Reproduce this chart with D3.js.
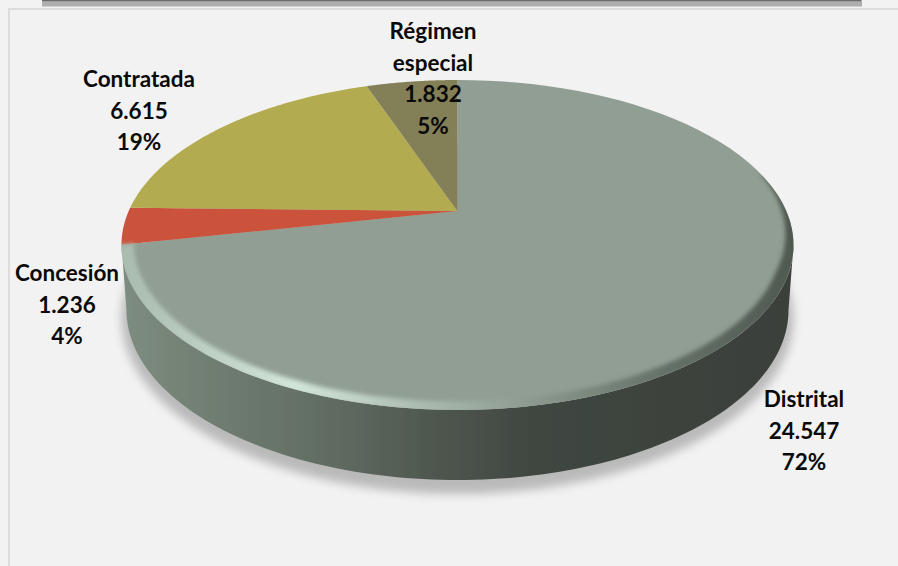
<!DOCTYPE html>
<html lang="es">
<head>
    <meta charset="UTF-8">
    <title>Pie</title>
    <script src="https://d3js.org/d3.v7.min.js"></script>
    <style>
        html, body { margin: 0; padding: 0; background: #f2f2f2; }
        svg { display: block; }
        .lbl { font-family: Lato, "Open Sans", sans-serif; font-weight: 700; font-size: 22.5px; fill: #0a0a0a; text-anchor: middle; }
    </style>
</head>
<body>
<svg id="main" width="898" height="566"></svg>
<script>
    // slices, clockwise from 12 o'clock
    const names = ['Distrital', 'Concesión', 'Contratada', 'Régimen especial'];
    const values = [24547, 1236, 6615, 1832];
    const valueLabels = ['24.547', '1.236', '6.615', '1.832'];
    const pctLabels = ['72%', '4%', '19%', '5%'];
    const sliceColors = ['#919e93', '#cb523b', '#b2ab50', '#837f56'];

    // label lines wrapped like the original, and the first baseline of each block
    const labelLines = [['Distrital'], ['Concesión'], ['Contratada'], ['Régimen', 'especial']];
    const labelX = [804, 67, 139, 433];
    const labelY = [407, 281, 87, 39];
    const lineGap = 31.6;

    const svg = d3.select('svg');
    const defs = svg.append('defs');

    // disc seen in perspective: the pie centre lands above the middle of the ellipse
    const cx = 457.5, apexY = 211, persp = -0.206, yPull = 114.5, xPull = 328.8;
    function project(angle, r) {
        let X = r * Math.sin(angle), Y = -r * Math.cos(angle);
        let w = 1 + persp * Y;
        return [cx + xPull * X / w, (apexY + yPull * Y) / w];
    }

    // lower rim of the wall
    const floor = {cy: 310, rx: 331, ry: 170};
    function floorPt(t) {
        return [cx + floor.rx * Math.cos(t), floor.cy + floor.ry * Math.sin(t)];
    }

    const line = d3.line();
    const pie = d3.pie().sort(null).value(d => d);
    const arcs = pie(values);

    function wedge(a) {
        let steps = d3.range(0, 1.0001, 1 / 80).map(s => project(a.startAngle + (a.endAngle - a.startAngle) * s, 1));
        return line([project(0, 0)].concat(steps)) + 'Z';
    }
    const fullDisc = line(d3.range(0, 1.0001, 1 / 240).map(s => project(s * 2 * Math.PI, 1))) + 'Z';

    // frame of the panel and the bar above it
    svg.append('rect').attr('x', 42).attr('y', 0).attr('width', 820).attr('height', 6.5).attr('fill', '#aeaeae');
    svg.append('rect').attr('x', 42).attr('y', 0).attr('width', 819).attr('height', 1.2).attr('fill', '#6a6a6a');
    svg.append('rect').attr('x', 8).attr('y', 8).attr('width', 890).attr('height', 2).attr('fill', '#dcdcdc');
    svg.append('rect').attr('x', 8).attr('y', 8).attr('width', 2).attr('height', 558).attr('fill', '#dcdcdc');

    // wall gradient, left to right
    const wallGrad = defs.append('linearGradient').attr('id', 'wallGrad')
        .attr('gradientUnits', 'userSpaceOnUse')
        .attr('x1', 121).attr('x2', 794).attr('y1', 0).attr('y2', 0);
    [[0, '#7e8d81'], [0.13, '#717e72'], [0.3, '#626d63'], [0.45, '#505950'], [0.62, '#3f4640'], [1, '#3a403b']]
        .forEach(d => wallGrad.append('stop').attr('offset', d[0]).attr('stop-color', d[1]));

    const rimGrad = defs.append('linearGradient').attr('id', 'rimGrad')
        .attr('gradientUnits', 'userSpaceOnUse')
        .attr('x1', 121).attr('x2', 794).attr('y1', 0).attr('y2', 0);
    [[0, '#a9bbae'], [0.26, '#d2e6d8'], [0.46, '#a8b9ac'], [0.6, '#8f9c91'], [0.8, '#667268'], [1, '#4f5950']]
        .forEach(d => rimGrad.append('stop').attr('offset', d[0]).attr('stop-color', d[1]));

    defs.append('filter').attr('id', 'blurBig').attr('x', '-10%').attr('y', '-10%').attr('width', '120%').attr('height', '120%')
        .append('feGaussianBlur').attr('stdDeviation', 5);
    defs.append('filter').attr('id', 'blurRim').attr('x', '-10%').attr('y', '-10%').attr('width', '120%').attr('height', '120%')
        .append('feGaussianBlur').attr('stdDeviation', 2);
    defs.append('filter').attr('id', 'soft').append('feGaussianBlur').attr('stdDeviation', 0.5);
    defs.append('clipPath').attr('id', 'discClip').append('path').attr('d', fullDisc);

    // soft shadow under the wall
    svg.append('ellipse')
        .attr('cx', cx).attr('cy', floor.cy + 8)
        .attr('rx', floor.rx + 5).attr('ry', floor.ry + 6)
        .attr('fill', '#8c8c8c').attr('opacity', 0.55)
        .attr('filter', 'url(#blurBig)');

    // wall: near half of the disc edge, between its widest points, down to the floor ellipse
    const widest = Math.asin(-persp);
    const sweep = d3.range(0, 1.0001, 1 / 120);
    const wallTop = sweep.map(s => project(Math.PI / 2 + widest + s * (Math.PI - 2 * widest), 1));
    const wallBottom = sweep.map(s => floorPt(Math.PI * (1 - s)));
    svg.append('path')
        .attr('d', line(wallTop.concat(wallBottom)) + 'Z')
        .attr('fill', 'url(#wallGrad)')
        .attr('filter', 'url(#soft)');

    // top face
    const face = svg.append('g').attr('filter', 'url(#soft)');
    face.selectAll('path')
        .data(arcs)
        .enter()
        .append('path')
        .attr('d', wedge)
        .attr('fill', (d, i) => sliceColors[i]);

    // bevel along the near edge of the face, a band that tapers out at the right end
    const rimStart = Math.PI / 2 - 0.25;
    const rimAngle = s => rimStart + s * (arcs[0].endAngle - rimStart);
    const rimOuter = sweep.map(s => project(rimAngle(s), 1.01));
    const rimInner = sweep.map(s => project(rimAngle(s), 1 - 0.035 * Math.min(1, s / 0.2))).reverse();
    svg.append('g').attr('clip-path', 'url(#discClip)')
        .append('path')
        .attr('d', line(rimOuter.concat(rimInner)) + 'Z')
        .attr('fill', 'url(#rimGrad)')
        .attr('filter', 'url(#blurRim)');

    // labels
    names.forEach(function (name, i) {
        let lines = labelLines[i].concat([valueLabels[i], pctLabels[i]]);
        let text = svg.append('text').attr('class', 'lbl');
        lines.forEach(function (t, j) {
            text.append('tspan')
                .attr('x', labelX[i])
                .attr('y', labelY[i] + j * lineGap)
                .text(t);
        });
    });
</script>
</body>
</html>
